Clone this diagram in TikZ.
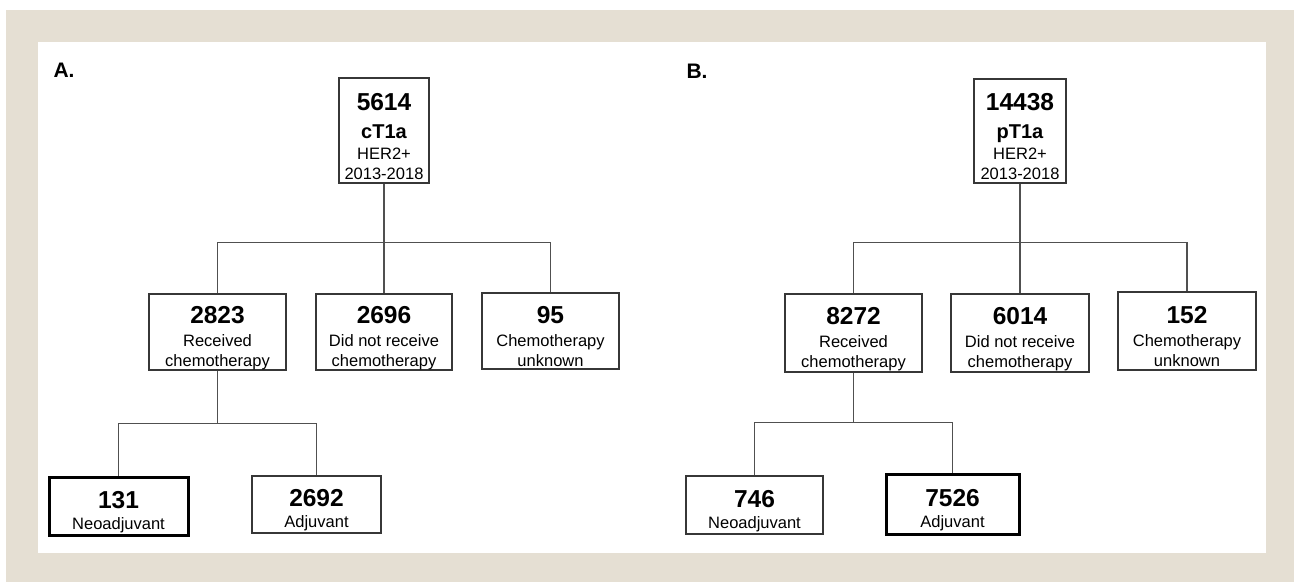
\documentclass[tikz,border=0pt]{standalone}
\usepackage{fontspec}
\setmainfont{Liberation Sans}
\usetikzlibrary{positioning}
\definecolor{frame}{RGB}{229,223,211}
\definecolor{edge}{RGB}{55,55,55}
\definecolor{wire}{RGB}{80,80,80}
\newcommand{\bignum}[1]{{\fontsize{24.5}{24.5}\selectfont\bfseries\rule{0pt}{28.5pt}#1}}
\newcommand{\stage}[1]{{\fontsize{20}{20}\selectfont\bfseries #1}}
\tikzset{
  box/.style={draw=edge,line width=1.3pt,align=center,inner sep=0pt,
    font=\fontsize{16.5}{20}\selectfont},
  keybox/.style={box,line width=3pt,draw=black},
  wire/.style={draw=wire,line width=1.3pt},
  panel/.style={font=\fontsize{21}{21}\selectfont\bfseries,anchor=base west}
}

\begin{document}
\begin{tikzpicture}[x=1pt,y=-1pt]
		\useasboundingbox (0,0) rectangle (1294,582);
		\fill[frame] (6,10) rectangle (1294,582);
		\fill[white] (38,42) rectangle (1266,553);
		
		% panel A
		\node[panel] (labA) at (50,77) {A.};
		\node[box,minimum width=90pt,minimum height=105pt] (cT) at (384,130.5)
		  {\bignum{5614}\\[8pt]\stage{cT1a}\\[1pt]HER2+\\2013-2018};
		\node[box,minimum width=137pt,minimum height=76pt] (cRec) at (217.5,332)
		  {\bignum{2823}\\[3pt]Received\\chemotherapy};
		\node[box,minimum width=136pt,minimum height=76pt] (cNot) at (384,332)
		  {\bignum{2696}\\[3pt]Did not receive\\chemotherapy};
		\node[box,minimum width=137pt,minimum height=76pt] (cUnk) at (550.5,331)
		  {\bignum{95}\\[3pt]Chemotherapy\\unknown};
		\node[keybox,minimum width=139pt,minimum height=58pt] (cNeo) at (118.5,506)
		  {\bignum{131}\\[1pt]Neoadjuvant};
		\node[box,minimum width=129pt,minimum height=57pt] (cAdj) at (316.5,504.5)
		  {\bignum{2692}\\[1pt]Adjuvant};
		
		\path (cT.south) ++(0,59) coordinate (cSplit);
		\path (cRec.south) ++(0,53) coordinate (cFork);
		\draw[wire] (cT.south) -- (cNot.north);
		\draw[wire] (cRec.north) |- (cSplit) -| (cUnk.north);
		\draw[wire] (cRec.south) -- (cFork);
		\draw[wire] (cNeo.north) |- (cFork) -| (cAdj.north);
		
		% panel B
		\node[panel] (labB) at (683,78) {B.};
		\node[box,minimum width=92pt,minimum height=104pt] (pT) at (1020,131)
		  {\bignum{14438}\\[8pt]\stage{pT1a}\\[1pt]HER2+\\2013-2018};
		\node[box,minimum width=137pt,minimum height=78pt] (pRec) at (853.5,333)
		  {\bignum{8272}\\[3pt]Received\\chemotherapy};
		\node[box,minimum width=138pt,minimum height=78pt] (pNot) at (1020,333)
		  {\bignum{6014}\\[3pt]Did not receive\\chemotherapy};
		\node[box,minimum width=138pt,minimum height=78pt] (pUnk) at (1187,331)
		  {\bignum{152}\\[3pt]Chemotherapy\\unknown};
		\node[box,minimum width=137pt,minimum height=58pt] (pNeo) at (754.5,505)
		  {\bignum{746}\\[1pt]Neoadjuvant};
		\node[keybox,minimum width=133pt,minimum height=60pt] (pAdj) at (952.5,504)
		  {\bignum{7526}\\[1pt]Adjuvant};
		
		\path (pT.south) ++(0,59) coordinate (pSplit);
		\path (pRec.south) ++(0,50) coordinate (pFork);
		\draw[wire] (pT.south) -- (pNot.north);
		\draw[wire] (pRec.north) |- (pSplit) -| (pUnk.north);
		\draw[wire] (pRec.south) -- (pFork);
		\draw[wire] (pNeo.north) |- (pFork) -| (pAdj.north);
\end{tikzpicture}
\end{document}
